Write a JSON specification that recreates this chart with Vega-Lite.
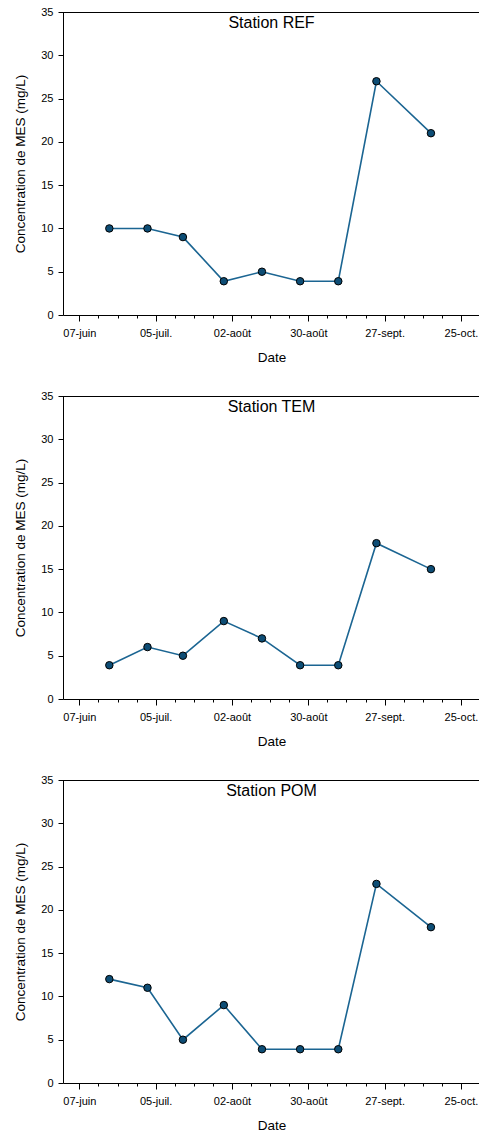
{
  "$schema": "https://vega.github.io/schema/vega-lite/v6.json",
  "padding": {"left": 13, "top": 6, "right": 0, "bottom": 0},
  "background": "white",
  "spacing": 26,
  "data": {
    "values": [
      {"station": "REF", "date": "2020-06-18", "mes": 10},
      {"station": "REF", "date": "2020-07-02", "mes": 10},
      {"station": "REF", "date": "2020-07-15", "mes": 9},
      {"station": "REF", "date": "2020-07-30", "mes": 3.9},
      {"station": "REF", "date": "2020-08-13", "mes": 5},
      {"station": "REF", "date": "2020-08-27", "mes": 3.9},
      {"station": "REF", "date": "2020-09-10", "mes": 3.9},
      {"station": "REF", "date": "2020-09-24", "mes": 27},
      {"station": "REF", "date": "2020-10-14", "mes": 21},
      {"station": "TEM", "date": "2020-06-18", "mes": 3.9},
      {"station": "TEM", "date": "2020-07-02", "mes": 6},
      {"station": "TEM", "date": "2020-07-15", "mes": 5},
      {"station": "TEM", "date": "2020-07-30", "mes": 9},
      {"station": "TEM", "date": "2020-08-13", "mes": 7},
      {"station": "TEM", "date": "2020-08-27", "mes": 3.9},
      {"station": "TEM", "date": "2020-09-10", "mes": 3.9},
      {"station": "TEM", "date": "2020-09-24", "mes": 18},
      {"station": "TEM", "date": "2020-10-14", "mes": 15},
      {"station": "POM", "date": "2020-06-18", "mes": 12},
      {"station": "POM", "date": "2020-07-02", "mes": 11},
      {"station": "POM", "date": "2020-07-15", "mes": 5},
      {"station": "POM", "date": "2020-07-30", "mes": 9},
      {"station": "POM", "date": "2020-08-13", "mes": 3.9},
      {"station": "POM", "date": "2020-08-27", "mes": 3.9},
      {"station": "POM", "date": "2020-09-10", "mes": 3.9},
      {"station": "POM", "date": "2020-09-24", "mes": 23},
      {"station": "POM", "date": "2020-10-14", "mes": 18}
    ]
  },
  "config": {
    "view": {"stroke": null},
    "font": "Liberation Sans",
    "axis": {
      "grid": false,
      "domainColor": "#000000",
      "tickColor": "#000000",
      "labelColor": "#000000",
      "titleColor": "#000000",
      "labelFont": "Liberation Sans",
      "titleFont": "Liberation Sans",
      "titleFontWeight": "normal",
      "labelFontSize": 11,
      "titleFontSize": 13.5
    },
    "title": {
      "font": "Liberation Sans",
      "fontSize": 16,
      "fontWeight": "normal",
      "color": "#000000",
      "anchor": "middle",
      "frame": "group",
      "baseline": "alphabetic",
      "offset": -25
    }
  },
  "vconcat": [
    {
      "width": 417,
      "height": 303,
      "title": {"text": "Station REF"},
      "transform": [{"filter": "datum.station === 'REF'"}],
      "encoding": {
        "x": {
          "field": "date", "type": "temporal",
          "scale": {"type": "utc", "domain": [{"year": 2020, "month": 6, "date": 1, "utc": true}, {"year": 2020, "month": 11, "date": 1, "utc": true}]},
          "axis": {
            "title": "Date",
            "tickCount": {"interval": "week", "step": 1},
            "labelExpr": "round((datum.value - 1591488000000) / 86400000) % 28 == 0 ? (utcdate(datum.value) < 10 ? '0' : '') + utcdate(datum.value) + '-' + ['janv.','févr.','mars','avr.','mai','juin','juil.','août','sept.','oct.','nov.','déc.'][utcmonth(datum.value)] : ''",
            "tickSize": {"condition": {"test": "round((datum.value - 1591488000000) / 86400000) % 28 == 0", "value": 6}, "value": 3},
            "labelOverlap": false,
            "labelFlush": false,
            "labelPadding": 6,
            "titlePadding": 12
          }
        },
        "y": {
          "field": "mes", "type": "quantitative",
          "scale": {"domain": [0, 35], "nice": false},
          "axis": {"title": "Concentration de MES (mg/L)", "values": [0, 5, 10, 15, 20, 25, 30, 35], "tickSize": 5, "labelPadding": 5, "titlePadding": 13}
        }
      },
      "layer": [
        {"mark": {"type": "rule", "color": "#000000", "strokeWidth": 1, "yOffset": 0.5}, "encoding": {"y": {"datum": 35}, "x": {"value": 0}, "x2": {"value": 417}}},
        {"mark": {"type": "line", "color": "#1b6592", "strokeWidth": 1.6}},
        {"mark": {"type": "point", "filled": true, "size": 56, "fill": "#0d4d75", "stroke": "#000000", "strokeWidth": 1, "opacity": 1}}
      ]
    },
    {
      "width": 417,
      "height": 303,
      "title": {"text": "Station TEM"},
      "transform": [{"filter": "datum.station === 'TEM'"}],
      "encoding": {
        "x": {
          "field": "date", "type": "temporal",
          "scale": {"type": "utc", "domain": [{"year": 2020, "month": 6, "date": 1, "utc": true}, {"year": 2020, "month": 11, "date": 1, "utc": true}]},
          "axis": {
            "title": "Date",
            "tickCount": {"interval": "week", "step": 1},
            "labelExpr": "round((datum.value - 1591488000000) / 86400000) % 28 == 0 ? (utcdate(datum.value) < 10 ? '0' : '') + utcdate(datum.value) + '-' + ['janv.','févr.','mars','avr.','mai','juin','juil.','août','sept.','oct.','nov.','déc.'][utcmonth(datum.value)] : ''",
            "tickSize": {"condition": {"test": "round((datum.value - 1591488000000) / 86400000) % 28 == 0", "value": 6}, "value": 3},
            "labelOverlap": false,
            "labelFlush": false,
            "labelPadding": 6,
            "titlePadding": 12
          }
        },
        "y": {
          "field": "mes", "type": "quantitative",
          "scale": {"domain": [0, 35], "nice": false},
          "axis": {"title": "Concentration de MES (mg/L)", "values": [0, 5, 10, 15, 20, 25, 30, 35], "tickSize": 5, "labelPadding": 5, "titlePadding": 13}
        }
      },
      "layer": [
        {"mark": {"type": "rule", "color": "#000000", "strokeWidth": 1, "yOffset": 0.5}, "encoding": {"y": {"datum": 35}, "x": {"value": 0}, "x2": {"value": 417}}},
        {"mark": {"type": "line", "color": "#1b6592", "strokeWidth": 1.6}},
        {"mark": {"type": "point", "filled": true, "size": 56, "fill": "#0d4d75", "stroke": "#000000", "strokeWidth": 1, "opacity": 1}}
      ]
    },
    {
      "width": 417,
      "height": 303,
      "title": {"text": "Station POM"},
      "transform": [{"filter": "datum.station === 'POM'"}],
      "encoding": {
        "x": {
          "field": "date", "type": "temporal",
          "scale": {"type": "utc", "domain": [{"year": 2020, "month": 6, "date": 1, "utc": true}, {"year": 2020, "month": 11, "date": 1, "utc": true}]},
          "axis": {
            "title": "Date",
            "tickCount": {"interval": "week", "step": 1},
            "labelExpr": "round((datum.value - 1591488000000) / 86400000) % 28 == 0 ? (utcdate(datum.value) < 10 ? '0' : '') + utcdate(datum.value) + '-' + ['janv.','févr.','mars','avr.','mai','juin','juil.','août','sept.','oct.','nov.','déc.'][utcmonth(datum.value)] : ''",
            "tickSize": {"condition": {"test": "round((datum.value - 1591488000000) / 86400000) % 28 == 0", "value": 6}, "value": 3},
            "labelOverlap": false,
            "labelFlush": false,
            "labelPadding": 6,
            "titlePadding": 12
          }
        },
        "y": {
          "field": "mes", "type": "quantitative",
          "scale": {"domain": [0, 35], "nice": false},
          "axis": {"title": "Concentration de MES (mg/L)", "values": [0, 5, 10, 15, 20, 25, 30, 35], "tickSize": 5, "labelPadding": 5, "titlePadding": 13}
        }
      },
      "layer": [
        {"mark": {"type": "rule", "color": "#000000", "strokeWidth": 1, "yOffset": 0.5}, "encoding": {"y": {"datum": 35}, "x": {"value": 0}, "x2": {"value": 417}}},
        {"mark": {"type": "line", "color": "#1b6592", "strokeWidth": 1.6}},
        {"mark": {"type": "point", "filled": true, "size": 56, "fill": "#0d4d75", "stroke": "#000000", "strokeWidth": 1, "opacity": 1}}
      ]
    }
  ]
}
